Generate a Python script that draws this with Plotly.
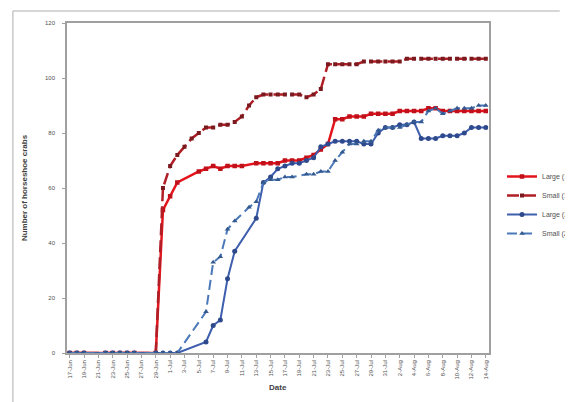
import plotly.graph_objects as go

zero_dates_a = ["06-17", "06-18", "06-19", "06-22", "06-23", "06-24", "06-25", "06-26", "06-29"]
zero_dates_b = zero_dates_a + ["06-30", "07-01", "07-02"]

large1_dates = zero_dates_a + ["06-30", "07-01", "07-02", "07-05", "07-06", "07-07", "07-08", "07-09", "07-10", "07-11",
                               "07-13", "07-14", "07-15", "07-16", "07-17", "07-18", "07-19", "07-20", "07-21", "07-22",
                               "07-23", "07-24", "07-25", "07-26", "07-27", "07-28", "07-29", "07-30", "07-31", "08-01",
                               "08-02", "08-03", "08-04", "08-05", "08-06", "08-07", "08-08", "08-09", "08-10", "08-11",
                               "08-12", "08-13", "08-14"]
large1_vals = [0] * 9 + [52, 57, 62, 66, 67, 68, 67, 68, 68, 68,
                         69, 69, 69, 69, 70, 70, 70, 71, 72, 74,
                         76, 85, 85, 86, 86, 86, 87, 87, 87, 87,
                         88, 88, 88, 88, 89, 89, 88, 88, 88, 88,
                         88, 88, 88]

small1_dates = zero_dates_a + ["06-30", "07-01", "07-02", "07-03", "07-04", "07-05", "07-06", "07-07", "07-08", "07-09",
                               "07-10", "07-11", "07-12", "07-13", "07-14", "07-15", "07-16", "07-17", "07-18", "07-19",
                               "07-20", "07-21", "07-22", "07-23", "07-24", "07-25", "07-26", "07-27", "07-28", "07-29",
                               "07-30", "07-31", "08-01", "08-02", "08-03", "08-04", "08-05", "08-06", "08-07", "08-08",
                               "08-09", "08-10", "08-11", "08-12", "08-13", "08-14"]
small1_vals = [0] * 9 + [60, 68, 72, 75, 78, 80, 82, 82, 83, 83,
                         84, 86, 90, 93, 94, 94, 94, 94, 94, 94,
                         93, 94, 96, 105, 105, 105, 105, 105, 106, 106,
                         106, 106, 106, 106, 107, 107, 107, 107, 107, 107,
                         107, 107, 107, 107, 107, 107]

large2_dates = zero_dates_b + ["07-06", "07-07", "07-08", "07-09", "07-10", "07-13", "07-14", "07-15", "07-16", "07-17",
                               "07-18", "07-19", "07-20", "07-21", "07-22", "07-23", "07-24", "07-25", "07-26", "07-27",
                               "07-28", "07-29", "07-30", "07-31", "08-01", "08-02", "08-03", "08-04", "08-05", "08-06",
                               "08-07", "08-08", "08-09", "08-10", "08-11", "08-12", "08-13", "08-14"]
large2_vals = [0] * 12 + [4, 10, 12, 27, 37, 49, 62, 64, 67, 68,
                          69, 69, 70, 71, 75, 76, 77, 77, 77, 77,
                          76, 76, 80, 82, 82, 83, 83, 84, 78, 78,
                          78, 79, 79, 79, 80, 82, 82, 82]

small2_dates = zero_dates_b + ["07-06", "07-07", "07-08", "07-09", "07-10", "07-12", "07-13", "07-14", "07-15", "07-16",
                               "07-17", "07-18", "07-20", "07-21", "07-22", "07-23", "07-24", "07-25", "07-26", "07-27",
                               "07-28", "07-29", "07-30", "07-31", "08-01", "08-02", "08-03", "08-04", "08-05", "08-06",
                               "08-07", "08-08", "08-09", "08-10", "08-11", "08-12", "08-13", "08-14"]
small2_vals = [0] * 12 + [15, 33, 35, 45, 48, 53, 55, 62, 63, 63,
                          64, 64, 65, 65, 66, 66, 70, 73, 76, 76,
                          77, 77, 81, 82, 82, 82, 83, 84, 84, 88,
                          89, 87, 88, 89, 89, 89, 90, 90]

series_names = ["Large (1)", "Small (1)", "Large (2)", "Small (2)"]
year = "2013-"

def d(lst):
    return [year + s for s in lst]

fig = go.Figure()
fig.add_trace(go.Scatter(x=d(large1_dates), y=large1_vals, name=series_names[0], mode="lines+markers",
                         line=dict(color="#E3141C", width=2.5),
                         marker=dict(symbol="square", size=4.5, color="#C0101A")))
fig.add_trace(go.Scatter(x=d(small1_dates), y=small1_vals, name=series_names[1], mode="lines+markers",
                         line=dict(color="#B01E26", width=2.5, dash="12px,5px"),
                         marker=dict(symbol="square", size=4, color="#7A1A1E")))
fig.add_trace(go.Scatter(x=d(large2_dates), y=large2_vals, name=series_names[2], mode="lines+markers",
                         line=dict(color="#3E5EAE", width=2),
                         marker=dict(symbol="circle", size=5, color="#2E4A8C")))
fig.add_trace(go.Scatter(x=d(small2_dates), y=small2_vals, name=series_names[3], mode="lines+markers",
                         line=dict(color="#4A78B8", width=2, dash="10px,5px"),
                         marker=dict(symbol="triangle-up", size=5, color="#34598F")))

L, R, T, B = 59, 503, 14, 345
W, H = 573, 402
pw, ph = R - L, B - T

fig.update_layout(
    width=W, height=H,
    margin=dict(l=L, r=W - R, t=T, b=H - B),
    paper_bgcolor="white", plot_bgcolor="white",
    font=dict(family="Liberation Sans, Arial, sans-serif", color="#404040"),
    showlegend=True,
    legend=dict(xref="container", yref="container", x=494 / W, y=1 - 154 / H, xanchor="left", yanchor="top",
                font=dict(size=7, color="#505050"), tracegroupgap=0, itemwidth=30,
                bgcolor="rgba(0,0,0,0)"),
    xaxis=dict(type="date", range=["2013-06-16 15:00", "2013-08-14 09:00"],
               tick0="2013-06-17", dtick=2 * 86400000, tickformat="%-d-%b", tickangle=-90,
               tickfont=dict(size=6, color="#505050"), showgrid=False, zeroline=False,
               showline=True, linecolor="#a0a0a0", linewidth=1.5, mirror=True,
               ticks="outside", ticklen=3, tickcolor="#a0a0a0",
               title=dict(text="<b>Date</b>", font=dict(size=8, color="#404040"), standoff=6)),
    yaxis=dict(range=[0, 120], dtick=20, tickfont=dict(size=6, color="#505050"),
               showgrid=False, zeroline=False, showline=True, linecolor="#a0a0a0", linewidth=1.5, mirror=True,
               ticks="outside", ticklen=3, tickcolor="#a0a0a0", ticklabelstandoff=6,
               title=dict(text="<b>Number of horseshoe crabs</b>", font=dict(size=8, color="#404040"), standoff=16)),
    shapes=[
        dict(type="line", xref="paper", yref="paper", x0=(2 - L) / pw, x1=(W + 5 - L) / pw,
             y0=(B - 2) / ph, y1=(B - 2) / ph, line=dict(color="#c8c8c8", width=1.5)),
        dict(type="line", xref="paper", yref="paper", x0=(2 - L) / pw, x1=(2 - L) / pw,
             y0=(B - 2) / ph, y1=(B - H - 5) / ph, line=dict(color="#c8c8c8", width=1.5)),
    ],
)

fig.write_html("out.html")
